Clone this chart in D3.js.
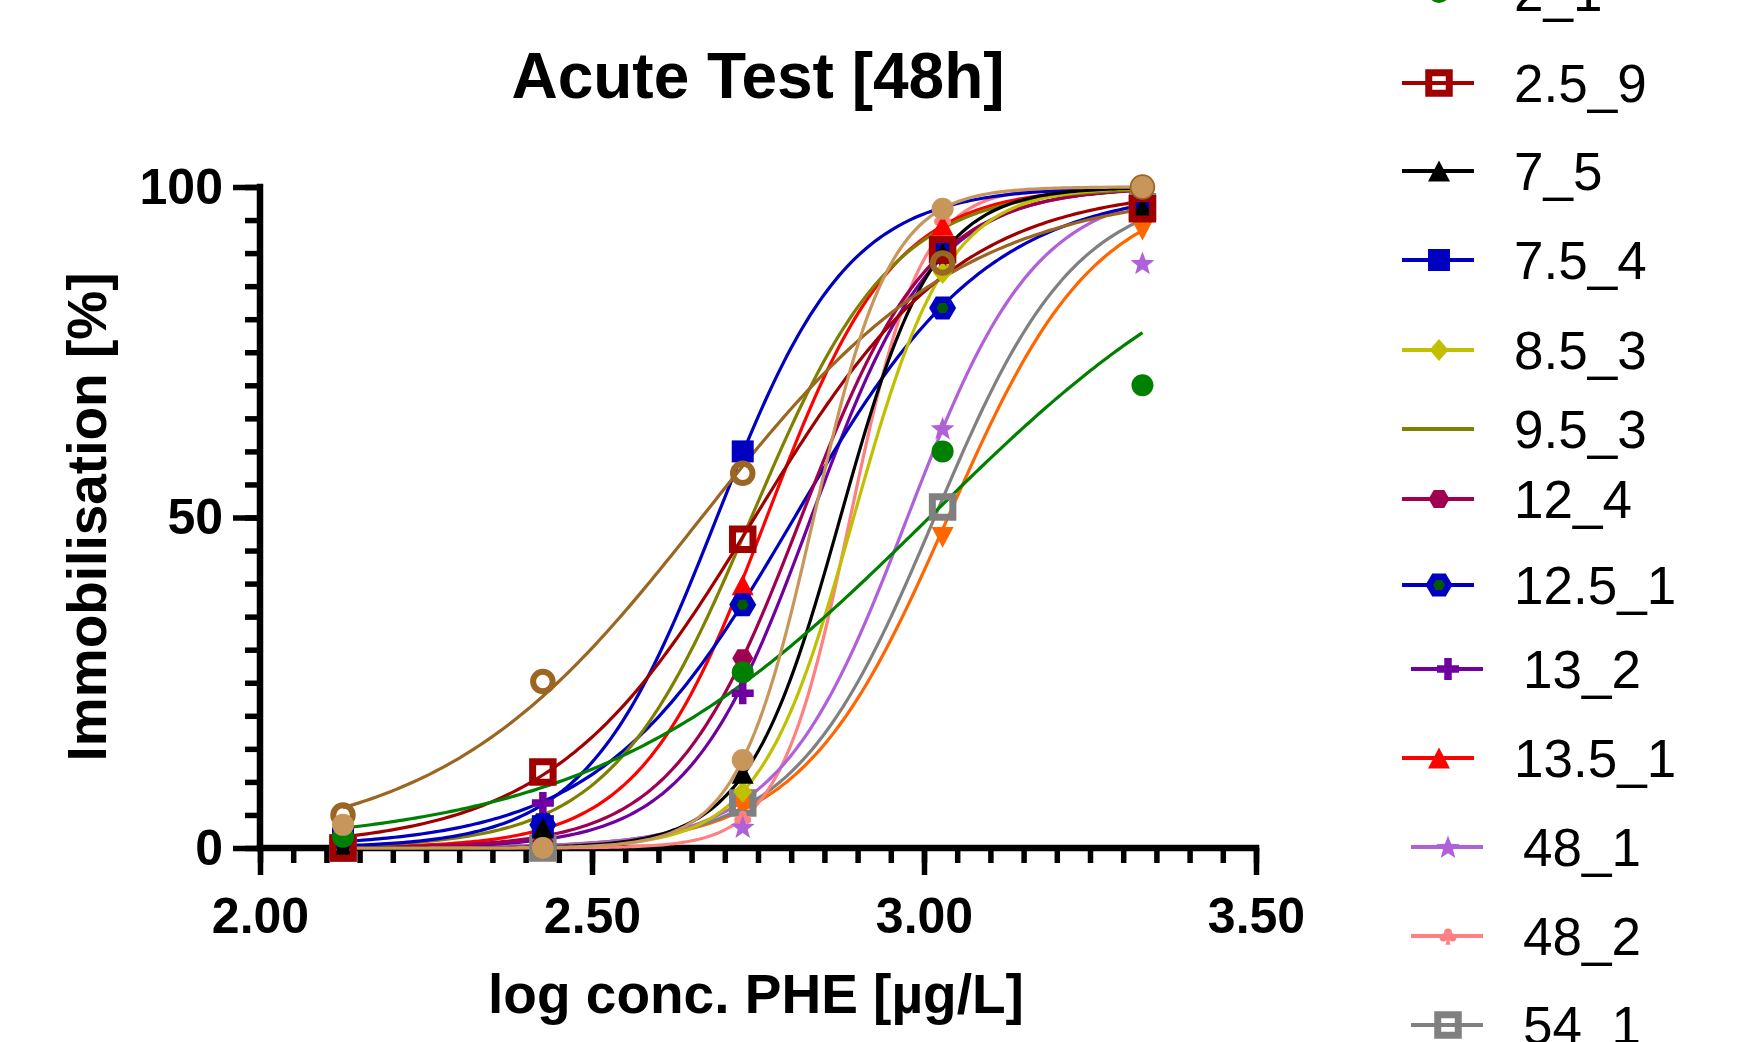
<!DOCTYPE html>
<html>
<head>
<meta charset="utf-8">
<script src="https://cdn.jsdelivr.net/npm/d3@7"></script>
<style>
  body { margin: 0; background: #fff; }
  svg { display: block; font-family: "Liberation Sans", Arial, sans-serif; }
</style>
</head>
<body>
<div id="chart"></div>
<script>
// concentrations on the x axis (log10 of µg/L)
var logConc = [2.125, 2.426, 2.727, 3.028, 3.329];

// series in legend order (the first two and the last one sit outside the picture)
var seriesNames = [null, null, "2_1", "2.5_9", "7_5", "7.5_4", "8.5_3", "9.5_3",
  "12_4", "12.5_1", "13_2", "13.5_1", "48_1", "48_2", "54_1", null];

// immobilisation [%] at each concentration
var immobilisation = [
  [3.5, 0, 13.3, 96.7, 100],
  [5.0, 25.2, 56.7, 88.5, 100],
  [1.7, 0, 26.6, 60, 70],
  [0, 11.5, 46.7, 90.5, 96.7],
  [0, 3, 11.3, 90, 96.8],
  [1.5, 3.3, 60, 90.5, 97],
  [0, 0, 8.5, 87, 99],
  null,
  [0, 1, 28.7, 90, 99],
  [1, 3.5, 36.8, 81.7, 97],
  [0, 6.8, 23.4, 89, 98],
  [0, 2, 39.8, 94.2, 99],
  [0, 0, 3.2, 63.5, 88.5],
  [0, 0, 4.5, 95, 100],
  [0, 0, 6.8, 51.6, 97],
  [0, 0, 6.2, 47, 93.5]
];

// fitted dose-response curves (bottom 0, top 100)
var logEC50 = [2.834, 2.665, 3.008, 2.745, 2.874, 2.688, 2.894, 2.740,
  2.815, 2.805, 2.830, 2.763, 2.975, 2.889, 3.016, 3.036];
var hillSlope = [7.58, 2.2, 1.71, 2.84, 6.19, 4.4, 6.17, 4.08,
  4.48, 2.96, 4.68, 4.55, 4.5, 8.2, 4.1, 3.93];

var colours = ["#C8965A", "#9A6622", "#008000", "#A00000", "#000000", "#0000C0",
  "#C0C000", "#808000", "#A0004F", "#0000C0", "#7000A0", "#FF0000",
  "#B060D8", "#FF8080", "#808080", "#FF6600"];

var symbols = ["circle", "ring", "circle", "openSquare", "triangle", "square",
  "diamond", "none", "hexagon", "hexagonGreen", "plus", "triangle",
  "star", "club", "openSquare", "triangleDown"];

var xTicks = [2.0, 2.5, 3.0, 3.5];
var yTicks = [0, 50, 100];

// legend layout
var legendRowY = {"2_1": -8, "2.5_9": 83, "7_5": 171, "7.5_4": 260, "8.5_3": 350,
  "9.5_3": 429, "12_4": 499, "12.5_1": 585, "13_2": 669, "13.5_1": 758,
  "48_1": 847, "48_2": 936, "54_1": 1025};
var legendIndented = ["13_2", "48_1", "48_2", "54_1"];

var width = 1739, height = 1042;

var svg = d3.select("#chart")
  .append("svg")
  .attr("width", width)
  .attr("height", height);

var x = d3.scaleLinear().domain([2, 3.5]).range([260, 1256]);
var y = d3.scaleLinear().domain([0, 100]).range([848, 187]);

// marker shapes, size = nominal width in px
function shape(kind) {
  return {
    draw: function (ctx, s) {
      var h;
      if (kind === "circle") {
        ctx.moveTo(s / 2, 0);
        ctx.arc(0, 0, s / 2, 0, 2 * Math.PI);
      } else if (kind === "square") {
        ctx.rect(-s / 2, -s / 2, s, s);
      } else if (kind === "triangle" || kind === "triangleDown") {
        h = s * 0.95;
        var k = kind === "triangle" ? 1 : -1;
        ctx.moveTo(0, -k * h / 2);
        ctx.lineTo(s / 2, k * h / 2);
        ctx.lineTo(-s / 2, k * h / 2);
        ctx.closePath();
      } else if (kind === "diamond") {
        ctx.moveTo(0, -s * 0.58);
        ctx.lineTo(s / 2, 0);
        ctx.lineTo(0, s * 0.58);
        ctx.lineTo(-s / 2, 0);
        ctx.closePath();
      } else if (kind === "hexagon") {
        h = s * 0.85;
        ctx.moveTo(-s / 2, 0);
        ctx.lineTo(-s / 4, -h / 2);
        ctx.lineTo(s / 4, -h / 2);
        ctx.lineTo(s / 2, 0);
        ctx.lineTo(s / 4, h / 2);
        ctx.lineTo(-s / 4, h / 2);
        ctx.closePath();
      } else if (kind === "plus") {
        var t = s * 0.17, a = s / 2;
        ctx.moveTo(-t, -a); ctx.lineTo(t, -a); ctx.lineTo(t, -t); ctx.lineTo(a, -t);
        ctx.lineTo(a, t); ctx.lineTo(t, t); ctx.lineTo(t, a); ctx.lineTo(-t, a);
        ctx.lineTo(-t, t); ctx.lineTo(-a, t); ctx.lineTo(-a, -t); ctx.lineTo(-t, -t);
        ctx.closePath();
      } else if (kind === "star") {
        var R = s / 2, r = R * 0.42;
        for (var i = 0; i < 10; i++) {
          var ang = -Math.PI / 2 + i * Math.PI / 5, rr = i % 2 ? r : R;
          if (i === 0) ctx.moveTo(rr * Math.cos(ang), rr * Math.sin(ang) + 1);
          else ctx.lineTo(rr * Math.cos(ang), rr * Math.sin(ang) + 1);
        }
        ctx.closePath();
      } else if (kind === "club") {
        var cr = s * 0.22;
        [[0, -s * 0.2], [-s * 0.25, s * 0.08], [s * 0.25, s * 0.08]].forEach(function (c) {
          ctx.moveTo(c[0] + cr, c[1]);
          ctx.arc(c[0], c[1], cr, 0, 2 * Math.PI);
        });
        ctx.moveTo(0, 0);
        ctx.lineTo(s * 0.14, s * 0.48);
        ctx.lineTo(-s * 0.14, s * 0.48);
        ctx.closePath();
      }
    }
  };
}

function markerStyle(kind, colour) {
  var m = {type: kind, size: 22, fill: colour, stroke: "none", sw: 0};
  if (kind === "ring") { m.type = "circle"; m.size = 19.5; m.fill = "none"; m.stroke = colour; m.sw = 6; }
  if (kind === "openSquare") { m.type = "square"; m.size = 20.5; m.fill = "none"; m.stroke = colour; m.sw = 7; }
  if (kind === "diamond") m.size = 19;
  if (kind === "hexagon") m.size = 21;
  if (kind === "hexagonGreen") { m.type = "hexagon"; m.size = 19.5; m.fill = "#005a00"; m.stroke = colour; m.sw = 6.5; }
  if (kind === "plus") m.size = 22;
  if (kind === "star") m.size = 25;
  if (kind === "club") m.size = 18;
  return m;
}

function drawMarker(g, kind, colour, cx, cy) {
  if (kind === "none") return;
  var m = markerStyle(kind, colour);
  g.append("path")
    .attr("d", d3.symbol().type(shape(m.type)).size(m.size)())
    .attr("transform", "translate(" + cx + "," + cy + ")")
    .attr("fill", m.fill)
    .attr("stroke", m.stroke)
    .attr("stroke-width", m.sw);
}

// axes
var axisFont = function (g, size) {
  g.attr("font-family", null).attr("font-size", size).attr("font-weight", "bold");
  g.select(".domain").remove();
  g.selectAll(".tick line").attr("stroke-width", 5.5);
};

svg.append("g")
  .attr("transform", "translate(" + x(2) + ",0)")
  .call(d3.axisLeft(y).tickValues(d3.range(0, 101, 5)).tickSize(15).tickFormat(""))
  .call(axisFont, 50);

svg.append("g")
  .attr("transform", "translate(" + x(2) + ",0)")
  .call(d3.axisLeft(y).tickValues(yTicks).tickSize(27).tickPadding(10))
  .call(axisFont, 50);

svg.append("g")
  .attr("transform", "translate(0," + y(0) + ")")
  .call(d3.axisBottom(x).tickValues(d3.range(0, 31).map(function (i) { return 2 + i * 0.05; }))
    .tickSize(15).tickFormat(""))
  .call(axisFont, 50);

svg.append("g")
  .attr("transform", "translate(0," + y(0) + ")")
  .call(d3.axisBottom(x).tickValues(xTicks).tickSize(27).tickPadding(22).tickFormat(d3.format(".2f")))
  .call(axisFont, 50);

svg.append("line")
  .attr("x1", x(2)).attr("x2", x(2))
  .attr("y1", y(100)).attr("y2", y(0))
  .attr("stroke", "#000").attr("stroke-width", 6.5).attr("stroke-linecap", "square");
svg.append("line")
  .attr("x1", x(2)).attr("x2", x(3.5))
  .attr("y1", y(0)).attr("y2", y(0))
  .attr("stroke", "#000").attr("stroke-width", 6.5).attr("stroke-linecap", "square");

// fitted curves, last series first
var line = d3.line()
  .x(function (d) { return x(d[0]); })
  .y(function (d) { return y(d[1]); });

var order = d3.range(seriesNames.length).reverse();
var curves = svg.append("g");
order.forEach(function (i) {
  var lo = logConc[0], hi = logConc[logConc.length - 1];
  var pts = d3.range(0, 201).map(function (k) {
    var lx = lo + (hi - lo) * k / 200;
    return [lx, 100 / (1 + Math.pow(10, (logEC50[i] - lx) * hillSlope[i]))];
  });
  curves.append("path")
    .attr("d", line(pts))
    .attr("fill", "none")
    .attr("stroke", colours[i])
    .attr("stroke-width", 3.2);
});

// data points
var marks = svg.append("g");
order.forEach(function (i) {
  if (!immobilisation[i]) return;
  immobilisation[i].forEach(function (v, j) {
    drawMarker(marks, symbols[i], colours[i], x(logConc[j]), y(v));
  });
});

// legend
var legend = svg.append("g");
seriesNames.forEach(function (name, i) {
  if (name === null) return;
  var ly = legendRowY[name];
  var dx = legendIndented.indexOf(name) >= 0 ? 9 : 0;
  legend.append("line")
    .attr("x1", 1402 + dx).attr("x2", 1474 + dx)
    .attr("y1", ly).attr("y2", ly)
    .attr("stroke", colours[i]).attr("stroke-width", 4);
  drawMarker(legend, symbols[i], colours[i], 1439 + dx, ly);
  legend.append("text")
    .attr("x", 1514 + dx)
    .attr("y", ly)
    .attr("dy", "0.36em")
    .style("font-size", "53px")
    .text(name);
});

// titles
svg.append("text")
  .attr("x", 758).attr("y", 98)
  .attr("text-anchor", "middle")
  .style("font-size", "64px").style("font-weight", "bold")
  .text("Acute Test [48h]");

svg.append("text")
  .attr("x", 756).attr("y", 1013)
  .attr("text-anchor", "middle")
  .style("font-size", "55px").style("font-weight", "bold")
  .text("log conc. PHE [µg/L]");

svg.append("text")
  .attr("transform", "translate(106,517) rotate(-90)")
  .attr("text-anchor", "middle")
  .style("font-size", "55px").style("font-weight", "bold")
  .text("Immobilisation [%]");
</script>
</body>
</html>
